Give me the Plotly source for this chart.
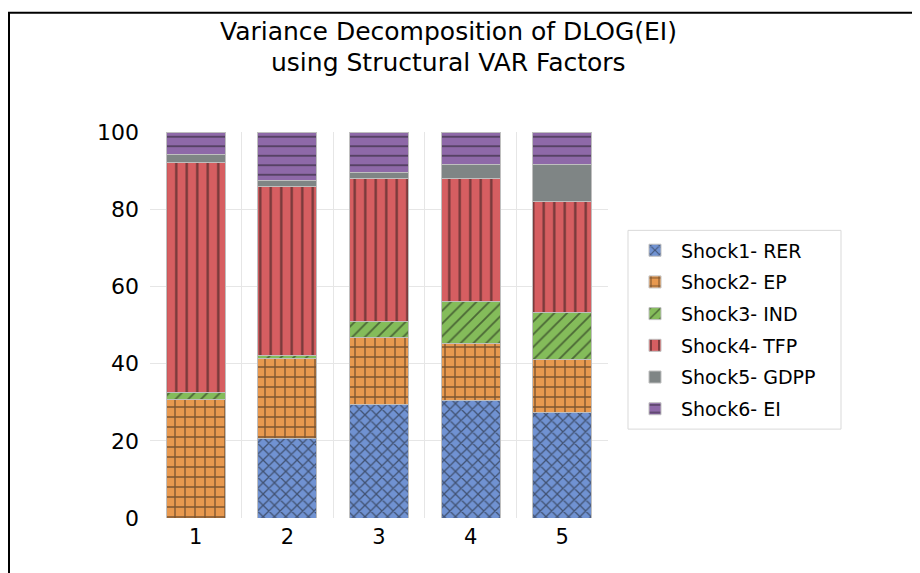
import plotly.graph_objects as go

periods = ["1", "2", "3", "4", "5"]
shock_names = ["Shock1- RER", "Shock2- EP", "Shock3- IND", "Shock4- TFP", "Shock5- GDPP", "Shock6- EI"]
shock1 = [0.0, 20.6, 29.5, 30.5, 27.4]
shock2 = [30.8, 20.6, 17.2, 14.8, 13.7]
shock3 = [1.7, 0.9, 4.1, 10.7, 12.1]
shock4 = [59.6, 43.8, 37.2, 32.0, 28.9]
shock5 = [2.2, 1.6, 1.6, 3.6, 9.5]
shock6 = [5.7, 12.5, 10.4, 8.4, 8.4]
y_ticks = [0, 20, 40, 60, 80, 100]
title_lines = ["Variance Decomposition of DLOG(EI)", "using Structural VAR Factors"]

series = [shock1, shock2, shock3, shock4, shock5, shock6]
colors = ["#7092D2", "#E8994F", "#84BC5A", "#D65E61", "#7F8585", "#8E69A8"]
patterns = [
    dict(shape="x", size=8, solidity=0.3),
    dict(shape="+", size=10, solidity=0.25),
    dict(shape="/", size=9, solidity=0.2),
    dict(shape="|", size=10.5, solidity=0.22),
    dict(shape="", size=8, solidity=0.2),
    dict(shape="-", size=9.5, solidity=0.18),
]

FONT = "DejaVu Sans"
OFF = 8  # page body margin
W, H = 912, 565
# page-pixel plot area: x 150..608, y 131.5..518
L, R, T, B = 150 - OFF, (920 - 608), 131.5 - OFF, (573 - 518)
pw, ph = W - L - R, H - T - B

def px_x(x):  # page pixel -> paper x
    return (x - OFF - L) / pw

def px_y(y):  # page pixel -> paper y
    return (H - B - (y - OFF)) / ph

fig = go.Figure()
for i, (name, vals) in enumerate(zip(shock_names, series)):
    p = patterns[i]
    fig.add_trace(go.Bar(
        x=periods, y=vals, name=name, legendgroup=name,
        marker=dict(
            color=colors[i],
            line=dict(color="#BFBFBF", width=1),
            pattern=dict(shape=p["shape"], size=p["size"], solidity=p["solidity"],
                         fgcolor="#111111", bgcolor=colors[i], fillmode="overlay"),
        ),
    ))

fig.update_layout(
    width=W, height=H,
    margin=dict(l=L, r=R, t=T, b=B, autoexpand=False),
    barmode="stack", bargap=0.355,
    paper_bgcolor="white", plot_bgcolor="white",
    font=dict(family=FONT, color="#000000"),
    legend=dict(
        x=px_x(629), y=px_y(231), xanchor="left", yanchor="top",
        borderwidth=0, bgcolor="rgba(0,0,0,0)",
        font=dict(size=19, family=FONT, color="#000000"),
        traceorder="grouped", tracegroupgap=4, itemwidth=42,
    ),
    xaxis=dict(
        type="category", tickson="boundaries", showgrid=True, gridcolor="#E6E6E6",
        ticks="", showline=False, zeroline=False, ticklabelstandoff=4,
        tickfont=dict(size=21, family=FONT, color="#000000"),
    ),
    yaxis=dict(
        range=[0, 100], tickvals=y_ticks, showgrid=True, gridcolor="#E6E6E6",
        ticks="", showline=False, zeroline=False, ticklabelstandoff=10,
        tickfont=dict(size=22, family=FONT, color="#000000"),
    ),
    showlegend=True,
)

for txt, yc in zip(title_lines, [31, 62]):
    fig.add_annotation(text=txt, xref="paper", yref="paper",
                       x=px_x(448), y=px_y(yc), xanchor="center", yanchor="middle",
                       showarrow=False, font=dict(size=25, family=FONT, color="#000000"))

# legend frame
fig.add_shape(type="rect", xref="paper", yref="paper", layer="below",
              x0=px_x(628), x1=px_x(841), y0=px_y(429), y1=px_y(230),
              line=dict(color="#D9D9D9", width=1), fillcolor="white")
# outer frame (top and left edges)
fig.add_shape(type="line", xref="paper", yref="paper",
              x0=px_x(OFF), x1=px_x(930), y0=px_y(12), y1=px_y(12),
              line=dict(color="black", width=2))
fig.add_shape(type="line", xref="paper", yref="paper",
              x0=px_x(OFF + 1), x1=px_x(OFF + 1), y0=px_y(12), y1=px_y(H + 20),
              line=dict(color="black", width=2))

fig.write_html("out.html")
